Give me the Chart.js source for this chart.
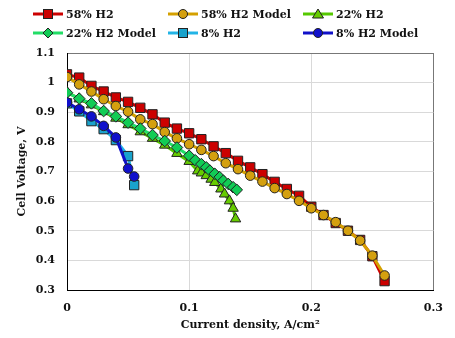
<!DOCTYPE html>
<html><head><meta charset="utf-8">
<script src="https://cdn.jsdelivr.net/npm/chart.js@4/dist/chart.umd.min.js"></script>
<style>
html,body{margin:0;padding:0;background:#fff;}
#wrap{position:relative;width:455px;height:338px;overflow:hidden;}
#c{position:absolute;left:0;top:0;}
.lg{position:absolute;height:14px;display:flex;align-items:center;font:bold 11px 'DejaVu Serif',Georgia,serif;color:#111;white-space:nowrap;}
.lg svg{margin-right:3px;flex:none;}
</style></head>
<body><div id="wrap"><canvas id="c" width="455" height="338" style="width:455px;height:338px"></canvas><div id="legend"></div></div>
<script>
// ---- data ----
const seriesNames = ["58% H2", "58% H2 Model", "22% H2", "22% H2 Model", "8% H2", "8% H2 Model"];
const x58 = [0,0.01,0.02,0.03,0.04,0.05,0.06,0.07,0.08,0.09,0.10,0.11,0.12,0.13,0.14,0.15,0.16,0.17,0.18,0.19,0.20,0.21,0.22,0.23,0.24,0.25,0.26];
const v58 = [1.028,1.017,0.989,0.970,0.950,0.935,0.915,0.893,0.865,0.845,0.829,0.809,0.785,0.762,0.736,0.714,0.691,0.665,0.641,0.618,0.581,0.553,0.526,0.500,0.469,0.414,0.330];
const v58Model = [1.019,0.994,0.970,0.944,0.921,0.902,0.876,0.860,0.833,0.812,0.792,0.773,0.752,0.728,0.708,0.686,0.666,0.644,0.624,0.601,0.576,0.553,0.529,0.500,0.467,0.416,0.349];
const x22 = [0,0.01,0.02,0.03,0.04,0.05,0.06,0.07,0.08,0.09,0.10,0.107,0.11,0.114,0.118,0.121,0.126,0.129,0.133,0.136,0.138];
const v22 = [0.968,0.945,0.925,0.902,0.880,0.858,0.834,0.812,0.789,0.761,0.734,0.702,0.695,0.686,0.674,0.663,0.641,0.624,0.601,0.576,0.540];
const x22Model = [0,0.01,0.02,0.03,0.04,0.05,0.06,0.07,0.08,0.09,0.10,0.105,0.11,0.114,0.117,0.121,0.125,0.128,0.132,0.136,0.139];
const v22Model = [0.966,0.946,0.930,0.904,0.886,0.865,0.845,0.823,0.803,0.781,0.753,0.738,0.725,0.714,0.703,0.692,0.681,0.669,0.658,0.647,0.638];
const x8 = [0,0.01,0.02,0.03,0.04,0.05,0.055];
const v8 = [0.930,0.903,0.870,0.843,0.806,0.752,0.654];
const v8Model = [0.933,0.910,0.886,0.854,0.815,0.710,0.683];
const xTicks = [0,0.1,0.2,0.3];
const xTickLabels = ["0","0.1","0.2","0.3"];
const yTicks = [0.3,0.4,0.5,0.6,0.7,0.8,0.9,1.0,1.1];
const yTickLabels = ["0.3","0.4","0.5","0.6","0.7","0.8","0.9","1","1.1"];

// ---- styles ----
const FONT = "'DejaVu Serif', Georgia, serif";
const styles = [
  {line:'#cc0000', fill:'#cc0000', shape:'rect', r:6.6},
  {line:'#d4a000', fill:'#d4a00f', shape:'circle', r:4.8},
  {line:'#55c800', fill:'#66cc00', shape:'triangle', r:6},
  {line:'#22dd66', fill:'#11cc55', shape:'rectRot', r:5.8},
  {line:'#22b4e6', fill:'#1aa3cc', shape:'rect', r:6.6},
  {line:'#1010c8', fill:'#1010cc', shape:'circle', r:4.8}
];
const xs = [x58, x58, x22, x22Model, x8, x8];
const vs = [v58, v58Model, v22, v22Model, v8, v8Model];

const datasets = seriesNames.map((name, i) => ({
  label: name,
  data: xs[i].map((x, k) => ({x: x, y: vs[i][k]})),
  borderColor: styles[i].line,
  backgroundColor: styles[i].fill,
  borderWidth: 3,
  pointStyle: styles[i].shape,
  pointRadius: styles[i].r,
  pointHoverRadius: styles[i].r,
  pointBackgroundColor: styles[i].fill,
  pointBorderColor: '#222',
  pointBorderWidth: 1,
  tension: 0,
  order: seriesNames.length - i
}));

new Chart(document.getElementById('c'), {
  type: 'line',
  data: {datasets},
  options: {
    responsive: false,
    animation: false,
    events: [],
    layout: {padding: {left: 0, right: 13, top: 53, bottom: 0}},
    plugins: {legend: {display: false}, tooltip: {enabled: false}},
    scales: {
      x: {
        type: 'linear', min: 0, max: 0.3,
        afterBuildTicks: s => { s.ticks = xTicks.map(v => ({value: v})); },
        afterFit: s => { s.height = 48; },
        ticks: {
          callback: (v, i) => xTickLabels[i],
          color: '#111', padding: 12,
          font: {family: FONT, size: 11, weight: 'bold'},
          maxRotation: 0
        },
        grid: {
          color: c => (c.tick && c.tick.value >= 0.3 - 1e-9) ? '#777' : '#d9d9d9',
          lineWidth: 1, drawTicks: false
        },
        border: {color: '#000', width: 1},
        title: {display: true, text: 'Current density, A/cm²', color: '#111',
          font: {family: FONT, size: 11, weight: 'bold'}, padding: {top: 0, bottom: 6}}
      },
      y: {
        type: 'linear', min: 0.3, max: 1.1,
        afterBuildTicks: s => { s.ticks = yTicks.map(v => ({value: v})); },
        afterFit: s => { s.width = 67; },
        ticks: {
          callback: (v, i) => yTickLabels[i],
          color: '#111', padding: 12,
          font: {family: FONT, size: 11, weight: 'bold'}
        },
        grid: {
          color: c => (c.tick && c.tick.value >= 1.1 - 1e-9) ? '#777' : '#d9d9d9',
          lineWidth: 1, drawTicks: false
        },
        border: {color: '#000', width: 1},
        title: {display: true, text: 'Cell Voltage, V', color: '#111',
          font: {family: FONT, size: 11, weight: 'bold'}, padding: {top: 16, bottom: 0}}
      }
    }
  }
});

// ---- HTML legend (line + marker symbol, real text) ----
function markerSvg(st) {
  const c = 15, y = 7;
  let m = '';
  if (st.shape === 'rect') m = `<rect x="${c-4.5}" y="${y-4.5}" width="9" height="9" fill="${st.fill}" stroke="#222" stroke-width="1"/>`;
  else if (st.shape === 'circle') m = `<circle cx="${c}" cy="${y}" r="4.5" fill="${st.fill}" stroke="#222" stroke-width="1"/>`;
  else if (st.shape === 'triangle') m = `<polygon points="${c},${y-5} ${c+5.5},${y+4} ${c-5.5},${y+4}" fill="${st.fill}" stroke="#222" stroke-width="1"/>`;
  else m = `<polygon points="${c},${y-5} ${c+5},${y} ${c},${y+5} ${c-5},${y}" fill="${st.fill}" stroke="#222" stroke-width="1"/>`;
  return `<svg width="30" height="14" viewBox="0 0 30 14"><line x1="0" y1="${y}" x2="30" y2="${y}" stroke="${st.line}" stroke-width="3"/>${m}</svg>`;
}
const legendCols = [33, 168, 303];
const legendRows = [7, 26];
const lg = document.getElementById('legend');
seriesNames.forEach((name, i) => {
  const d = document.createElement('div');
  d.className = 'lg';
  d.style.left = legendCols[i % 3] + 'px';
  d.style.top = legendRows[Math.floor(i / 3)] + 'px';
  d.innerHTML = markerSvg(styles[i]) + '<span></span>';
  d.querySelector('span').textContent = name;
  lg.appendChild(d);
});
</script>
</body></html>
